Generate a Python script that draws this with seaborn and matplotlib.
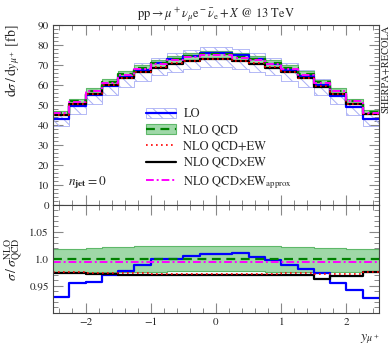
import numpy as np
import pandas as pd
import seaborn as sns
import matplotlib.pyplot as plt
from matplotlib.ticker import MultipleLocator
from matplotlib.patches import Patch
from matplotlib.lines import Line2D

# bins in y_mu+ (width 0.25)
edges = np.linspace(-2.5, 2.5, 21)

# NLO QCD central value [fb]
nlo_qcd = [46.2, 52.0, 57.2, 61.5, 65.3, 68.3, 70.8, 72.8, 74.2, 75.2,
           75.2, 74.0, 72.8, 70.8, 68.3, 65.4, 61.4, 57.2, 52.1, 46.4]
# NLO QCD scale band (ratio to NLO QCD)
nlo_up = [1.019, 1.019, 1.020, 1.021, 1.022, 1.023, 1.024, 1.024, 1.024, 1.024,
          1.024, 1.024, 1.023, 1.023, 1.022, 1.021, 1.020, 1.020, 1.019, 1.019]
nlo_dn = [0.975, 0.975, 0.975, 0.976, 0.976, 0.976, 0.976, 0.977, 0.977, 0.977,
          0.977, 0.977, 0.977, 0.976, 0.976, 0.976, 0.976, 0.975, 0.975, 0.975]

# ratios to NLO QCD
lo_ratio = [0.929, 0.956, 0.957, 0.970, 0.978, 0.989, 0.999, 1.000, 1.006, 1.008,
            1.009, 1.010, 1.003, 0.997, 0.988, 0.982, 0.974, 0.956, 0.942, 0.928]
qcd_plus_ew = [0.975, 0.975, 0.974, 0.974, 0.973, 0.973, 0.972, 0.972, 0.972, 0.972,
               0.972, 0.972, 0.972, 0.972, 0.973, 0.973, 0.972, 0.972, 0.972, 0.976]
qcd_times_ew = [0.973, 0.973, 0.972, 0.972, 0.971, 0.971, 0.970, 0.970, 0.970, 0.970,
                0.970, 0.970, 0.970, 0.970, 0.971, 0.971, 0.963, 0.969, 0.969, 0.975]
ew_approx = [0.994, 0.994, 0.994, 0.994, 0.994, 0.994, 0.994, 0.994, 0.994, 0.994,
             0.994, 0.994, 0.994, 0.994, 0.994, 0.994, 0.994, 0.994, 0.994, 0.994]

# LO scale band (ratio to LO)
lo_up = [1.07, 1.06, 1.06, 1.05, 1.05, 1.05, 1.04, 1.04, 1.04, 1.04,
         1.04, 1.04, 1.04, 1.04, 1.05, 1.05, 1.05, 1.06, 1.06, 1.07]
lo_dn = [0.92, 0.92, 0.92, 0.92, 0.92, 0.92, 0.92, 0.91, 0.91, 0.91,
         0.91, 0.91, 0.91, 0.92, 0.92, 0.92, 0.92, 0.92, 0.92, 0.92]


def steps(v):
    v = np.asarray(v, dtype=float)
    return np.append(v, v[-1])


nlo = np.array(nlo_qcd)
lo = np.array(lo_ratio) * nlo

sns.set_theme(style="ticks")
plt.rcParams['font.family'] = ['STIXGeneral', 'DejaVu Serif']
plt.rcParams['mathtext.fontset'] = 'stix'
plt.rcParams['hatch.linewidth'] = 0.7
plt.rcParams['hatch.color'] = '#a8aef5'

BLUE = '#0000ff'
GREEN = '#008000'
BAND = '#9fd8a8'
BANDEDGE = '#5fb86a'
RED = '#ff0000'
MAG = '#ff00ff'
HATCH = '#a8aef5'

fig = plt.figure(figsize=(3.92, 3.5), dpi=100)
ax = fig.add_axes([0.135, 0.414, 0.832, 0.515])
axr = fig.add_axes([0.135, 0.106, 0.832, 0.309], sharex=ax)

df = pd.DataFrame({
    'y': edges,
    'lo': steps(lo),
    'nlo': steps(nlo),
    'plus': steps(np.array(qcd_plus_ew) * nlo),
    'times': steps(np.array(qcd_times_ew) * nlo),
    'approx': steps(np.array(ew_approx) * nlo),
})

# --- main panel ---
ax.fill_between(edges, steps(lo * np.array(lo_dn)), steps(lo * np.array(lo_up)),
                step='post', facecolor='none', edgecolor=HATCH,
                hatch='\\\\\\', linewidth=0.6)
ax.fill_between(edges, steps(nlo * np.array(nlo_dn)), steps(nlo * np.array(nlo_up)),
                step='post', facecolor=BAND, edgecolor=BANDEDGE, linewidth=0.8)

kw = dict(drawstyle='steps-post', estimator=None, sort=False, legend=False)
sns.lineplot(data=df, x='y', y='lo', ax=ax, color=BLUE, lw=1.6, **kw)
sns.lineplot(data=df, x='y', y='times', ax=ax, color='black', lw=1.6, **kw)
sns.lineplot(data=df, x='y', y='plus', ax=ax, color=RED, lw=1.2, linestyle=(0, (1, 2)), **kw)
sns.lineplot(data=df, x='y', y='nlo', ax=ax, color=GREEN, lw=1.6, linestyle=(0, (4, 2.5)), **kw)
sns.lineplot(data=df, x='y', y='approx', ax=ax, color=MAG, lw=1.4,
             linestyle=(0, (4, 1.5, 1, 1.5)), **kw)

ax.set_xlim(-2.5, 2.5)
ax.set_ylim(0, 90)
ax.set_yticks(np.arange(0, 91, 10))
ax.yaxis.set_minor_locator(MultipleLocator(2))
ax.set_xlabel('')
ax.set_ylabel(r'$\mathrm{d}\sigma\,/\,\mathrm{d}y_{\mu^+}$ [fb]', fontsize=10, loc='top')
ax.yaxis.set_label_coords(-0.095, 1.0)
ax.tick_params(labelbottom=False)
ax.set_title(r'$\mathrm{pp}\rightarrow\mu^+\nu_\mu\mathrm{e}^-\bar{\nu}_\mathrm{e}+X$ @ 13 TeV',
             fontsize=9, pad=5)

ax.text(0.045, 0.11, r'$n_{\mathbf{jet}} = 0$', transform=ax.transAxes, fontsize=9.5)

handles = [
    (Patch(facecolor='none', edgecolor=HATCH, hatch='\\\\\\', lw=0.6),
     Line2D([], [], color=BLUE, lw=1.6)),
    (Patch(facecolor=BAND, edgecolor=BANDEDGE, lw=0.8),
     Line2D([], [], color=GREEN, lw=1.6, linestyle=(0, (4, 2.5)))),
    Line2D([], [], color=RED, lw=1.2, linestyle=(0, (1, 2))),
    Line2D([], [], color='black', lw=1.6),
    Line2D([], [], color=MAG, lw=1.4, linestyle=(0, (4, 1.5, 1, 1.5))),
]
labels = ['LO', 'NLO QCD', 'NLO QCD+EW', r'NLO QCD$\times$EW',
          r'NLO QCD$\times$EW$_{\mathrm{approx}}$']
ax.legend(handles, labels, loc='upper left', bbox_to_anchor=(0.27, 0.565),
          frameon=False, fontsize=9, handlelength=2.4, handleheight=0.8,
          labelspacing=0.3, handletextpad=0.6, borderaxespad=0)

fig.text(0.983, 0.929, 'SHERPA+RECOLA', rotation=90, va='top', ha='center', fontsize=7.5)

# --- ratio panel ---
axr.fill_between(edges, steps(nlo_dn), steps(nlo_up), step='post',
                 facecolor=BAND, edgecolor=BANDEDGE, linewidth=0.8)
rdf = pd.DataFrame({
    'y': edges,
    'lo': steps(lo_ratio),
    'nlo': steps(np.ones(20)),
    'plus': steps(qcd_plus_ew),
    'times': steps(qcd_times_ew),
    'approx': steps(ew_approx),
})
sns.lineplot(data=rdf, x='y', y='lo', ax=axr, color=BLUE, lw=1.6, **kw)
sns.lineplot(data=rdf, x='y', y='times', ax=axr, color='black', lw=1.6, **kw)
sns.lineplot(data=rdf, x='y', y='plus', ax=axr, color=RED, lw=1.2, linestyle=(0, (1, 2)), **kw)
sns.lineplot(data=rdf, x='y', y='nlo', ax=axr, color=GREEN, lw=1.6, linestyle=(0, (4, 2.5)), **kw)
sns.lineplot(data=rdf, x='y', y='approx', ax=axr, color=MAG, lw=1.4,
             linestyle=(0, (4, 1.5, 1, 1.5)), **kw)

axr.set_ylim(0.9, 1.1)
axr.set_yticks([0.95, 1.0, 1.05])
axr.set_yticklabels(['0.95', '1.0', '1.05'])
axr.yaxis.set_minor_locator(MultipleLocator(0.01))
axr.set_xticks([-2, -1, 0, 1, 2])
axr.xaxis.set_minor_locator(MultipleLocator(0.2))
axr.set_ylabel(r'$\sigma\,/\,\sigma^{\mathrm{NLO}}_{\mathrm{QCD}}$', fontsize=10)
axr.yaxis.set_label_coords(-0.085, 0.5)
axr.set_xlabel(r'$y_{\mu^+}$', fontsize=10, loc='right', labelpad=4)

for a in (ax, axr):
    a.tick_params(which='both', direction='in', top=True, right=True,
                  color='#888888', labelsize=8, pad=3)
    a.tick_params(which='major', length=7, width=0.8)
    a.tick_params(which='minor', length=3.5, width=0.7)
    for s in a.spines.values():
        s.set_color('#444444')
        s.set_linewidth(0.8)

fig.savefig('out.png', dpi=100)
